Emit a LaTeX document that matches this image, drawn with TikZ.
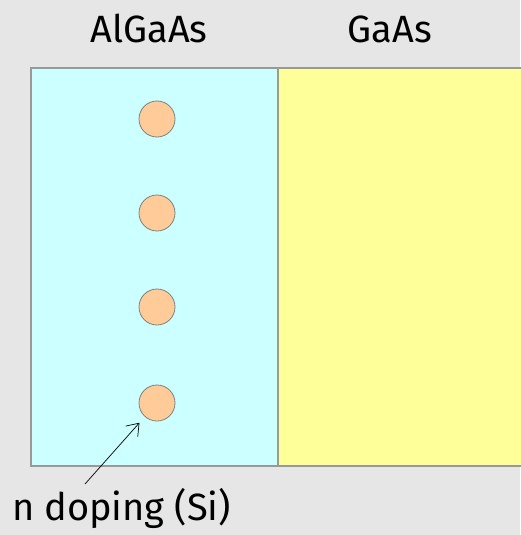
\documentclass[tikz,border=0pt]{standalone}
\usepackage{fontspec}
\setmainfont{Fira Sans}
\usetikzlibrary{arrows.meta}
\definecolor{bggray}{HTML}{E6E6E6}
\definecolor{algaas}{HTML}{CCFFFF}
\definecolor{gaas}{HTML}{FFFF99}
\definecolor{edgegray}{HTML}{999999}
\definecolor{dopant}{HTML}{FFCC99}
\definecolor{dopedge}{HTML}{808080}
\tikzset{
  layer/.style={draw=edgegray, line width=1.2pt},
  dopantdot/.style={circle, draw=dopedge, fill=dopant, line width=0.8pt, minimum size=36pt, inner sep=0pt},
  title/.style={font=\fontsize{38}{44}\selectfont, anchor=base, inner sep=0pt},
  pointer/.style={-{Straight Barb[length=11pt,width=16pt]}, line width=0.7pt, black}
}
\begin{document}
\begin{tikzpicture}[x=1pt,y=-1pt]
\fill[bggray] (0,0) rectangle (520,535);
\useasboundingbox (0,0) rectangle (520,535);
\filldraw[layer, fill=algaas] (31,68) rectangle (278,466);
\filldraw[layer, fill=gaas] (278,68) rectangle (530,466);
\node[title] (t1) at (149,42) {AlGaAs};
\node[title] (t2) at (390,42) {GaAs};
\node[dopantdot] (d1) at (157,119) {};
\node[dopantdot] (d2) at (157,213) {};
\node[dopantdot] (d3) at (157,307) {};
\node[dopantdot] (d4) at (157,403) {};
\node[title] (lbl) at (121.5,520) {n doping (Si)};
\coordinate (tail) at (85,484);
\draw[pointer, shorten >=8pt] (tail) -- (d4);
\end{tikzpicture}
\end{document}
